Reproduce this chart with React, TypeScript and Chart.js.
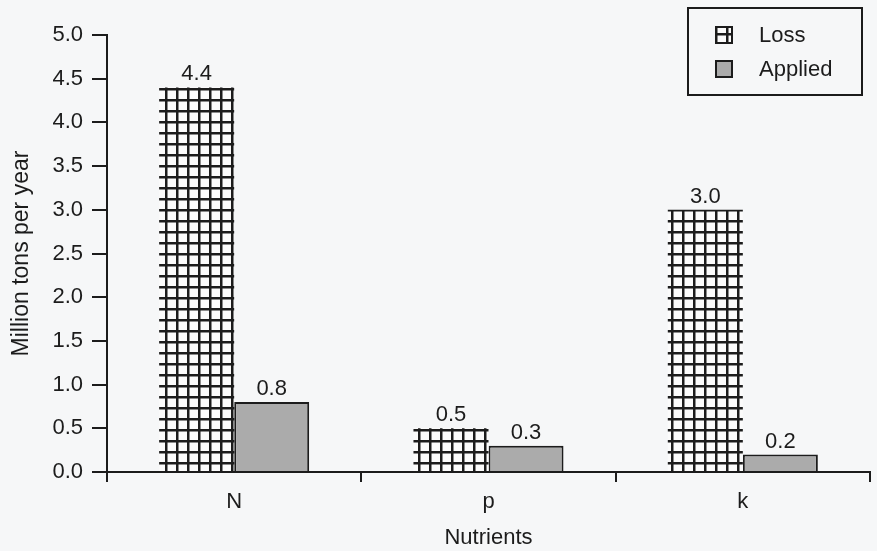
import React, { useEffect, useRef } from "react";
import { Chart, registerables } from "chart.js";

Chart.register(...registerables);

const categories = ["N", "p", "k"];
const lossValues = [4.4, 0.5, 3.0];
const appliedValues = [0.8, 0.3, 0.2];
const seriesNames = ["Loss", "Applied"];
const yMin = 0;
const yMax = 5;
const yStep = 0.5;

const INK = "#1c1c1c";
const PAPER = "#f6f7f8";
const GREY = "#ababab";
const FONT = "'Liberation Sans', Arial, sans-serif";

function makeGridPattern(): CanvasPattern | string {
  const c = document.createElement("canvas");
  c.width = 11;
  c.height = 11;
  const g = c.getContext("2d");
  if (!g) return "#fff";
  g.fillStyle = "#fbfbfb";
  g.fillRect(0, 0, 11, 11);
  g.fillStyle = INK;
  g.fillRect(0, 0, 11, 2.5);
  g.fillRect(0, 0, 2.5, 11);
  const p = g.createPattern(c, "repeat");
  return p || "#fff";
}

const valueLabels = {
  id: "valueLabels",
  afterDatasetsDraw(chart: any) {
    const ctx = chart.ctx;
    ctx.save();
    ctx.font = `22px ${FONT}`;
    ctx.fillStyle = INK;
    ctx.textAlign = "center";
    ctx.textBaseline = "alphabetic";
    chart.data.datasets.forEach((ds: any, di: number) => {
      const meta = chart.getDatasetMeta(di);
      meta.data.forEach((el: any, i: number) => {
        ctx.fillText(Number(ds.data[i]).toFixed(1), el.x, el.y - 7);
      });
    });
    ctx.restore();
  },
};

const boxLegend = {
  id: "boxLegend",
  afterDraw(chart: any) {
    const ctx = chart.ctx;
    const x = 688, y = 8, w = 174, h = 87;
    ctx.save();
    ctx.fillStyle = PAPER;
    ctx.fillRect(x, y, w, h);
    ctx.strokeStyle = INK;
    ctx.lineWidth = 2;
    ctx.strokeRect(x, y, w, h);
    ctx.font = `22px ${FONT}`;
    ctx.textBaseline = "alphabetic";
    ctx.textAlign = "left";
    chart.data.datasets.forEach((ds: any, i: number) => {
      const base = 42 + i * 34;
      const bx = 716, bs = 16;
      const top = base - 15;
      ctx.fillStyle = ds.backgroundColor;
      ctx.fillRect(bx, top, bs, bs);
      ctx.strokeStyle = INK;
      ctx.lineWidth = 2;
      ctx.strokeRect(bx, top, bs, bs);
      ctx.fillStyle = INK;
      ctx.fillText(ds.label, 759, base);
    });
    ctx.restore();
  },
};

export default function App() {
  const ref = useRef<HTMLCanvasElement | null>(null);
  useEffect(() => {
    if (!ref.current) return;
    const pattern = makeGridPattern();
    const chart = new Chart(ref.current, {
      type: "bar",
      data: {
        labels: categories,
        datasets: [
          {
            label: seriesNames[0],
            data: lossValues,
            backgroundColor: pattern as any,
            borderWidth: 0,
            barPercentage: 1,
            categoryPercentage: 0.59,
          },
          {
            label: seriesNames[1],
            data: appliedValues,
            backgroundColor: GREY,
            borderColor: INK,
            borderWidth: 2,
            borderSkipped: "bottom",
            barPercentage: 1,
            categoryPercentage: 0.59,
          },
        ],
      },
      options: {
        animation: false,
        responsive: false,
        maintainAspectRatio: false,
        layout: { padding: { top: 35, right: 7, left: 0, bottom: 0 } },
        plugins: {
          legend: { display: false },
          tooltip: { enabled: false },
          title: { display: false },
        },
        scales: {
          x: {
            grid: {
              display: true,
              drawOnChartArea: false,
              drawTicks: true,
              tickLength: 10,
              color: INK,
              lineWidth: 2,
              offset: true,
            },
            border: { display: true, color: INK, width: 2 },
            ticks: {
              color: INK,
              padding: 7,
              font: { family: FONT, size: 22 },
            },
            title: {
              display: true,
              text: "Nutrients",
              color: INK,
              font: { family: FONT, size: 22 },
              padding: { top: 4, bottom: 0 },
            },
            afterFit: (s: any) => {
              s.height = 79;
            },
          },
          y: {
            min: yMin,
            max: yMax,
            grid: {
              display: true,
              drawOnChartArea: false,
              drawTicks: true,
              tickLength: 15,
              color: INK,
              lineWidth: 2,
            },
            border: { display: true, color: INK, width: 2 },
            ticks: {
              stepSize: yStep,
              color: INK,
              padding: 9,
              font: { family: FONT, size: 22 },
              callback: (v: any) => Number(v).toFixed(1),
            },
            title: {
              display: true,
              text: "Million tons per year",
              color: INK,
              font: { family: FONT, size: 23 },
              padding: { top: 8, bottom: 0 },
            },
            afterFit: (s: any) => {
              s.width = 107;
            },
          },
        },
      },
      plugins: [valueLabels, boxLegend],
    });
    return () => chart.destroy();
  }, []);
  return (
    <div
      style={{
        position: "fixed",
        left: 0,
        top: 0,
        width: 877,
        height: 551,
        background: PAPER,
      }}
    >
      <canvas ref={ref} width={877} height={551} style={{ width: 877, height: 551 }} />
    </div>
  );
}
